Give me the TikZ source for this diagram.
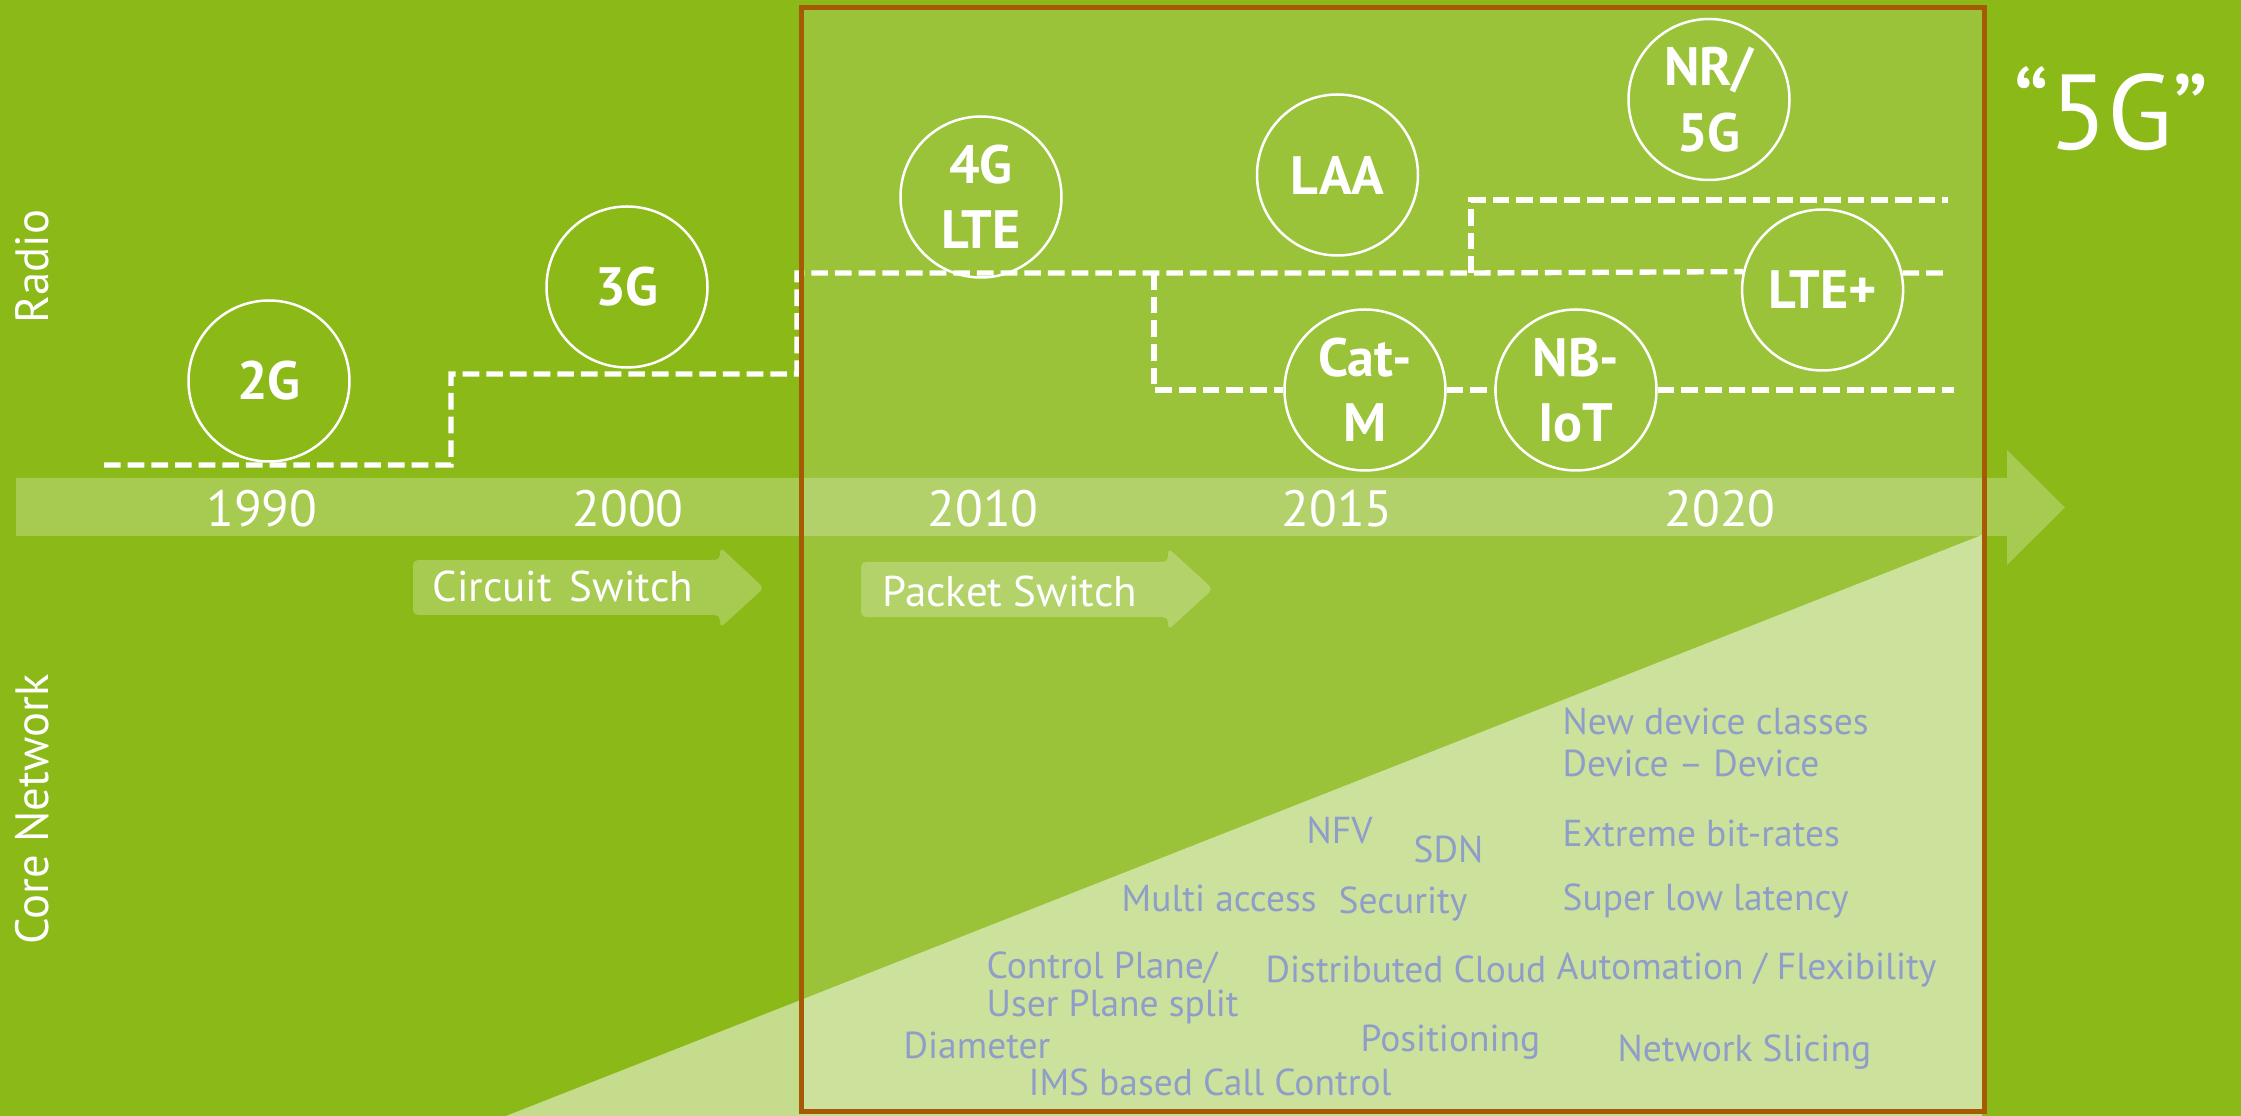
\documentclass[tikz,border=0pt]{standalone}
\usepackage{fontspec}
\setmainfont{PT Sans}
\definecolor{bg}{RGB}{138,185,24}
\definecolor{framec}{RGB}{166,90,4}
\definecolor{ink}{RGB}{143,158,200}
\begin{document}
\begin{tikzpicture}[x=0.3pt,y=-0.3pt,
  gen/.style={draw=white, line width=0.75pt, circle, minimum size=48.3pt, inner sep=0pt,
    text=white, font=\bfseries\fontsize{16.2}{19.6}\selectfont, align=center},
  dline/.style={white, line width=1.6pt, dash pattern=on 5pt off 2.1pt},
  yr/.style={anchor=base, inner sep=0pt, text=white, font=\fontsize{15.3}{18}\selectfont},
  side/.style={rotate=90, inner sep=0pt, text=white, font=\fontsize{14}{17}\selectfont},
  sw/.style={anchor=base west, inner sep=0pt, text=white, font=\fontsize{12.9}{15}\selectfont},
  cn/.style={anchor=base west, inner sep=0pt, text=ink, font=\fontsize{11.25}{13.5}\selectfont},
  lite/.style={white, fill opacity=0.25}
]
\useasboundingbox (0,0) rectangle (2241,1116);
\fill[bg] (0,0) rectangle (2241,1116);
% timeline band
\fill[lite] (16,478) -- (2007,478) -- (2007,450) -- (2065,507.5) -- (2007,565) -- (2007,536) -- (16,536) -- cycle;
% highlight box fill
\fill[white, fill opacity=0.145] (801,8) rectangle (1984,1112);
% core network triangle
\fill[white, fill opacity=0.5] (506,1116) -- (1982,535) -- (1982,1116) -- cycle;
% switch arrows
\fill[lite, rounded corners=1.5pt] (413,560) -- (720,560) -- (720,547) -- (764,588) -- (720,628) -- (720,615) -- (413,615) -- cycle;
\fill[lite, rounded corners=1.5pt] (861,562) -- (1168,562) -- (1168,548) -- (1213,589) -- (1168,630) -- (1168,617) -- (861,617) -- cycle;
\node[sw] (cs) at (432,601.7) {Circuit\hspace{0.15em} Switch};
\node[sw] (ps) at (882,606.7) {Packet Switch};

% generations
\node[gen] (g2) at (269,381) {2G};
\node[gen] (g3) at (627,287) {3G};
\node[gen] (g4) at (981,197) {4G\\LTE};
\node[gen] (laa) at (1337.5,175) {LAA};
\node[gen] (catm) at (1365,390) {Cat-\\M};
\node[gen] (nbiot) at (1576,390) {NB-\\IoT};
\node[gen] (nr) at (1709,99.5) {NR/\\5G};
\node[gen] (lteplus) at (1822.6,290) {LTE+};

% dashed evolution lines
\coordinate (p0) at (104,465);
\coordinate (p1) at (451,465);
\coordinate (p2) at (451,374);
\coordinate (p3) at (797,374);
\coordinate (p4) at (797,273);
\coordinate (p5) at (1471,273);
\coordinate (p6) at (1471,200);
\coordinate (p7) at (1948,200);
\coordinate (b0) at (1154,273);
\coordinate (b1) at (1154,390);
\coordinate (q1) at (1947,273);
\coordinate (q2) at (1954,390);
\draw[dline] (p0) -- (p1) -- (p2) -- (p3) -- (p4) -- (p5) -- (lteplus.167.7);
\draw[dline] (p5) -- (p6) -- (p7);
\draw[dline] (lteplus.12.3) -- (q1);
\draw[dline] (b0) -- (b1) -- (catm.west);
\draw[dline] (catm.east) -- (nbiot.west);
\draw[dline] (nbiot.east) -- (q2);

% years
\node[yr] (y1990) at (262,526.5) {1990};
\node[yr] (y2000) at (628,526.5) {2000};
\node[yr] (y2010) at (983,526.5) {2010};
\node[yr] (y2015) at (1337,526.5) {2015};
\node[yr] (y2020) at (1720,526.5) {2020};

% side labels
\node[side] (radio) at (32,266.5) {Radio};
\node[side] (core) at (32,809.7) {Core Network};
\node[anchor=base, inner sep=0pt, text=white, font=\fontsize{32}{38}\selectfont] (fiveg) at (2111,150) {“5G”};

% core network features
\node[cn] (t1) at (1562,734.3) {New device classes};
\node[cn] (t2) at (1562,776.7) {Device – Device};
\node[cn] (t3) at (1562,846.7) {Extreme bit-rates};
\node[cn] (t4) at (1562,910.7) {Super low latency};
\node[cn] (t5) at (1556,980) {Automation / Flexibility};
\node[cn] (t6) at (1617,1061.7) {Network Slicing};
\node[cn] (t7) at (1306,843.3) {NFV};
\node[cn] (t8) at (1413,862.7) {SDN};
\node[cn] (t9) at (1338,913.3) {Security};
\node[cn] (t10) at (1265,982.7) {Distributed Cloud};
\node[cn] (t11) at (1360,1051.7) {Positioning};
\node[cn] (t12) at (1121,911.7) {Multi access};
\node[cn] (t13) at (986,978.3) {Control Plane/};
\node[cn] (t14) at (986,1016.7) {User Plane split};
\node[cn] (t15) at (903,1058.3) {Diameter};
\node[cn] (t16) at (1028,1096) {IMS based Call Control};

% box frame
\draw[framec, line width=1.5pt] (801,8) rectangle (1984,1112);
\end{tikzpicture}
\end{document}
